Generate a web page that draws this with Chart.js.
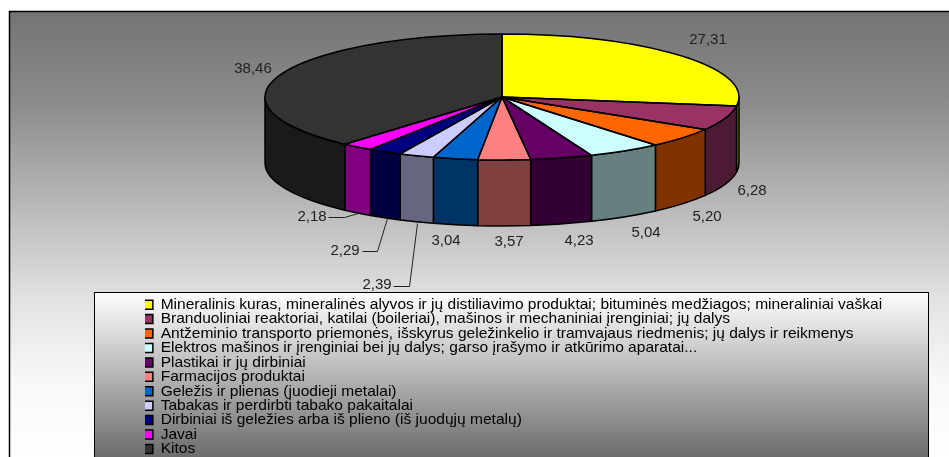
<!DOCTYPE html>
<html><head><meta charset="utf-8">
<style>html,body{margin:0;padding:0;background:#fff;overflow:hidden}canvas{display:block}#w{width:949px;height:457px;position:relative}</style>
<script src="https://cdn.jsdelivr.net/npm/chart.js@4"></script>
</head><body><div id="w"><canvas id="c" width="949" height="457"></canvas></div>
<script>
const categories = [
 "Mineralinis kuras, mineralinės alyvos ir jų distiliavimo produktai; bituminės medžiagos; mineraliniai vaškai",
 "Branduoliniai reaktoriai, katilai (boileriai), mašinos ir mechaniniai įrenginiai; jų dalys",
 "Antžeminio transporto priemonės, išskyrus geležinkelio ir tramvajaus riedmenis; jų dalys ir reikmenys",
 "Elektros mašinos ir įrenginiai bei jų dalys; garso įrašymo ir atkūrimo aparatai...",
 "Plastikai ir jų dirbiniai",
 "Farmacijos produktai",
 "Geležis ir plienas (juodieji metalai)",
 "Tabakas ir perdirbti tabako pakaitalai",
 "Dirbiniai iš geležies arba iš plieno (iš juodųjų metalų)",
 "Javai",
 "Kitos"
];
const values = [27.31,6.28,5.20,5.04,4.23,3.57,3.04,2.39,2.29,2.18,38.46];
const colors = ["#ffff00","#993366","#ff6600","#ccffff","#660066","#ff8080","#0066cc","#ccccff","#000080","#ff00ff","#333333"];
const labelCentres = [[708,40],[752,191],[707,217],[646,233],[579,241],[509,242],[446,241],[377,285],[345,251],[312,217],[253,69]];
const leaders = [[],[],[],[],[],[],[],
 [[393,286],[409,286],[417,223]],
 [[362,251],[377,251],[387,218]],
 [[328,217],[344,217],[358,213]],[]];

const CX=502, CY=97, RX=237, RY=63, DEPTH=66;
const FONT='"Liberation Sans", Arial, sans-serif';
function half(h){const n=parseInt(h.slice(1),16);
 return 'rgb('+[(n>>16)&255,(n>>8)&255,n&255].map(v=>Math.round(v/2)).join(',')+')';}

const pie3d={id:'pie3d',
 beforeDraw(chart){
  const ctx=chart.ctx;ctx.save();
  let g=ctx.createLinearGradient(0,11,0,457);
  g.addColorStop(0,'#747474');g.addColorStop(0.2,'#8a8a8a');g.addColorStop(0.424,'#b6b6b6');
  g.addColorStop(0.648,'#e2e2e2');g.addColorStop(0.827,'#f8f8f8');g.addColorStop(1,'#ffffff');
  ctx.fillStyle=g;ctx.fillRect(9.5,11.5,940,446);
  ctx.strokeStyle='#000';ctx.lineWidth=1.5;ctx.strokeRect(9.5,11.5,945,450);
  g=ctx.createLinearGradient(0,292,0,457);
  g.addColorStop(0,'#ffffff');g.addColorStop(1,'#6c6c6c');
  ctx.fillStyle=g;ctx.fillRect(94.5,292.5,834,170);
  ctx.strokeStyle='#000';ctx.lineWidth=1;ctx.strokeRect(94.5,292.5,834,170);
  ctx.restore();
 },
 beforeDatasetsDraw(chart){
  const ctx=chart.ctx, arcs=chart.getDatasetMeta(0).data;
  ctx.save();
  ctx.strokeStyle='#000';ctx.lineWidth=1.5;ctx.lineJoin='round';
  const order=arcs.map((a,i)=>i).filter(i=>arcs[i].endAngle>0&&arcs[i].startAngle<Math.PI);
  order.forEach(i=>{
   const a=arcs[i], s=Math.max(a.startAngle,0), e=Math.min(a.endAngle,Math.PI);
   ctx.beginPath();
   ctx.ellipse(CX,CY,RX,RY,0,s,e);
   ctx.ellipse(CX,CY+DEPTH,RX,RY,0,e,s,true);
   ctx.closePath();
   ctx.fillStyle=half(colors[i]);ctx.fill();ctx.stroke();
  });
  ctx.restore();
  const a0=arcs[0];
  ctx.save();
  ctx.translate(CX,CY);ctx.scale(RX/a0.outerRadius,RY/a0.outerRadius);ctx.translate(-a0.x,-a0.y);
 },
 afterDatasetsDraw(chart){
  const ctx=chart.ctx, arcs=chart.getDatasetMeta(0).data;
  ctx.restore();
  ctx.save();
  ctx.strokeStyle='#000';ctx.lineWidth=1.5;ctx.lineJoin='round';
  arcs.forEach(a=>{
   ctx.beginPath();ctx.moveTo(CX,CY);
   ctx.ellipse(CX,CY,RX,RY,0,a.startAngle,a.endAngle);
   ctx.closePath();ctx.stroke();
  });
  ctx.lineWidth=1;ctx.strokeStyle='#222';
  leaders.forEach(l=>{ if(!l.length)return;
   ctx.beginPath();l.forEach((p,i)=>i?ctx.lineTo(p[0]+.5,p[1]+.5):ctx.moveTo(p[0]+.5,p[1]+.5));ctx.stroke();});
  ctx.fillStyle='#222';ctx.font='15px '+FONT;ctx.textAlign='center';ctx.textBaseline='middle';
  values.forEach((v,i)=>ctx.fillText(v.toFixed(2).replace('.',','),labelCentres[i][0],labelCentres[i][1]));
  ctx.restore();
 },
 afterLayout(chart){
  const l=chart.legend; if(!l)return;
  l.left=145;l.right=940;l.top=298;l.bottom=1000;
 }
};

new Chart(document.getElementById('c'),{
 type:'pie',
 data:{labels:categories,datasets:[{data:values,backgroundColor:colors,borderWidth:0,clip:false}]},
 plugins:[pie3d],
 options:{
  responsive:false,animation:false,devicePixelRatio:1,
  layout:{padding:0},
  plugins:{
   tooltip:{enabled:false},
   legend:{display:true,position:'chartArea',align:'start',
    labels:{font:{family:FONT,size:15.55},color:'#000',boxWidth:9,boxHeight:9,padding:-1.12,
     generateLabels(c){
      return Chart.overrides.pie.plugins.legend.labels.generateLabels(c).map(it=>({...it,strokeStyle:'#000',lineWidth:1.5}));
     }}}
  }
 }
});
</script></body></html>
